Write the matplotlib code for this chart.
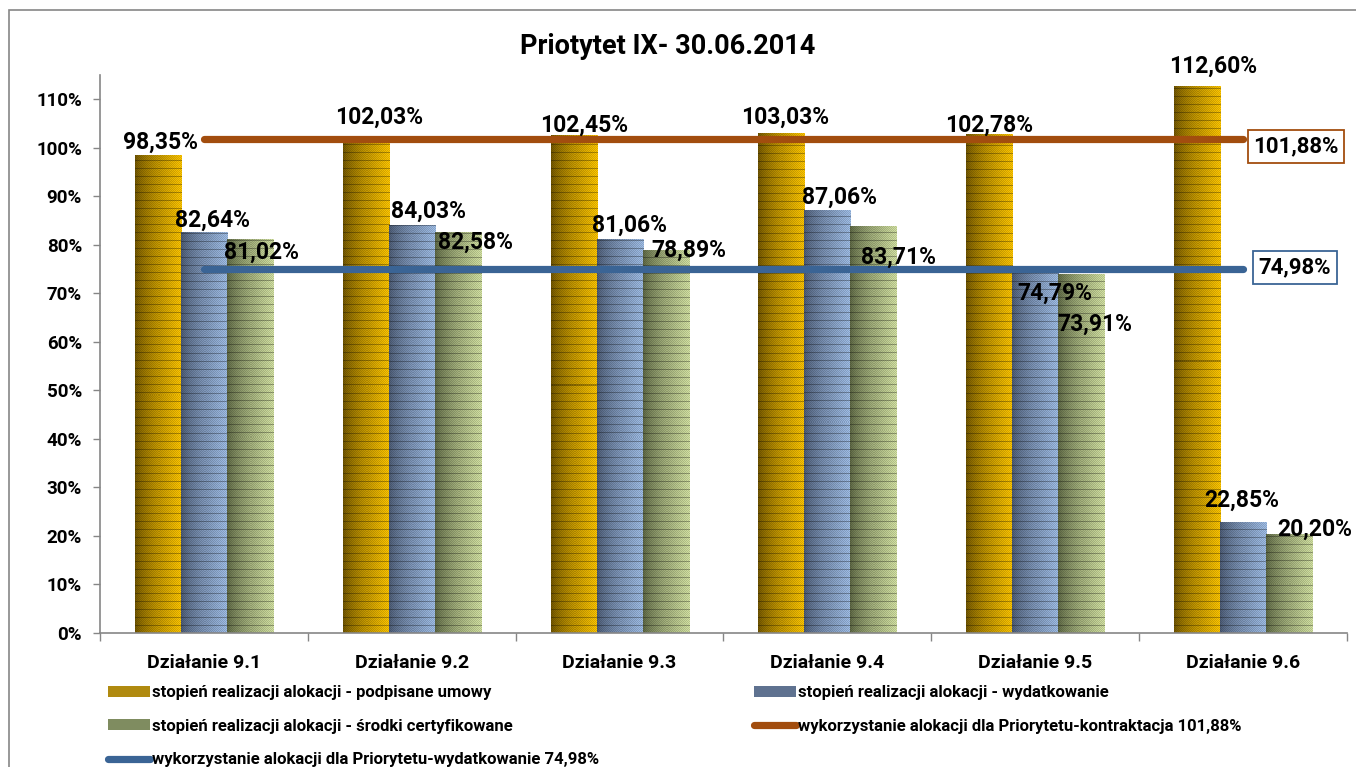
import numpy as np
import matplotlib
matplotlib.use("Agg")
import matplotlib.pyplot as plt
from matplotlib.patches import Patch, Rectangle
from matplotlib.lines import Line2D

plt.rcParams['font.family'] = ['Roboto', 'DejaVu Sans']

# ---------------- data ----------------
title = "Priotytet IX- 30.06.2014"
categories = ["Działanie 9.1", "Działanie 9.2", "Działanie 9.3",
              "Działanie 9.4", "Działanie 9.5", "Działanie 9.6"]
podpisane_umowy = [98.35, 102.03, 102.45, 103.03, 102.78, 112.60]
wydatkowanie = [82.64, 84.03, 81.06, 87.06, 74.79, 22.85]
srodki_certyfikowane = [81.02, 82.58, 78.89, 83.71, 73.91, 20.20]
kontraktacja_priorytet = [101.88, 101.88, 101.88, 101.88, 101.88, 101.88]
wydatkowanie_priorytet = [74.98, 74.98, 74.98, 74.98, 74.98, 74.98]
series_names = ["stopień realizacji alokacji - podpisane umowy",
                "stopień realizacji alokacji - wydatkowanie",
                "stopień realizacji alokacji - środki certyfikowane"]
line_names = ["wykorzystanie alokacji dla Priorytetu-kontraktacja 101,88%",
              "wykorzystanie alokacji dla Priorytetu-wydatkowanie 74,98%"]
yticks = list(range(0, 111, 10))

# ---------------- styling ----------------
W, H = 1356, 767
fig = plt.figure(figsize=(W / 100, H / 100), dpi=100)
ax_l, ax_r, ax_b, ax_t = 100, 1347, 633, 75
ax = fig.add_axes([ax_l / W, 1 - ax_b / H, (ax_r - ax_l) / W, (ax_b - ax_t) / H])
YMAX = 115
px_per_unit = (ax_b - ax_t) / YMAX

bar_colors = [  # (dark, light, legend)
    ((0.45, 0.34, 0.0), (1.0, 0.78, 0.0), "#b08a10"),
    ((0.30, 0.36, 0.46), (0.63, 0.75, 0.91), "#5f7290"),
    ((0.37, 0.41, 0.27), (0.83, 0.89, 0.64), "#7f8c60"),
]
line_colors = ["#A24D0E", "#3A6495"]

label_offsets = [
    [(3, 13.5), (13, 20.6), (11, 10.6), (4, 16), (0, 9), (16, 20)],
    [(9, 12), (17, 14), (10, 14.5), (12, 13), (20, -23), (-1, 22)],
    [(12, -12), (18, -10), (23, 0), (25, -30), (14, -50), (26, 6)],
]


def texture(dark, light, h_px, w_px):
    g = np.linspace(0, 1, w_px) ** 0.75
    dark = np.array(dark)
    light = np.array(light)
    base = dark[None, None, :] + (light - dark)[None, None, :] * g[None, :, None]
    h_px = max(h_px, 1)
    img = np.repeat(base, h_px, axis=0)
    yy, xx = np.mgrid[0:h_px, 0:w_px]
    checker = ((yy + xx) % 2 == 0)
    img = img * np.where(checker, 0.86, 1.0)[..., None]
    stripes = ((h_px - yy) % 8 == 0)
    img = img * np.where(stripes, 0.7, 1.0)[..., None]
    return np.clip(img, 0, 1)


x = np.arange(len(categories))
bw = 0.2214
all_series = [podpisane_umowy, wydatkowanie, srodki_certyfikowane]
handles = []
for si, vals in enumerate(all_series):
    dark, light, legc = bar_colors[si]
    xs = x + (si - 1) * bw
    bars = ax.bar(xs, vals, width=bw, color=legc, zorder=1, linewidth=0)
    for b, v in zip(bars, vals):
        hpx = int(round(v * px_per_unit))
        img = texture(dark, light, hpx, 46)
        ax.imshow(img, extent=(b.get_x(), b.get_x() + b.get_width(), 0, v),
                  aspect='auto', interpolation='nearest', zorder=2)
    handles.append(Patch(facecolor=legc, edgecolor='none', label=series_names[si]))

for vals, c, name in zip([kontraktacja_priorytet, wydatkowanie_priorytet], line_colors, line_names):
    ax.plot(x, vals, color=c, lw=5.2, solid_capstyle='round', zorder=3)
    handles.append(Line2D([0], [0], color=c, lw=5.2, solid_capstyle='round', label=name))

# data labels
for si, vals in enumerate(all_series):
    xs = x + (si - 1) * bw
    for i, (xx, v) in enumerate(zip(xs, vals)):
        dx, dy = label_offsets[si][i]
        ax.annotate(f"{v:.2f}".replace('.', ',') + '%', xy=(xx, v), xytext=(dx, dy),
                    textcoords='offset pixels', ha='center', va='center',
                    fontsize=16.5, fontweight='bold', zorder=5)

# boxed line labels
for vals, c, off in zip([kontraktacja_priorytet, wydatkowanie_priorytet], line_colors,
                        [(53, -8), (52, 2)]):
    ax.annotate(f"{vals[-1]:.2f}".replace('.', ',') + '%', xy=(x[-1], vals[-1]), xytext=off,
                textcoords='offset pixels', ha='center', va='center',
                fontsize=16, fontweight='bold', zorder=6,
                bbox=dict(boxstyle='square,pad=0.25', fc='white', ec=c, lw=1.3))

ax.set_xlim(-0.5, len(categories) - 0.5)
ax.set_ylim(0, YMAX)
ax.set_yticks(yticks)
ax.set_yticklabels([f"{t}%" for t in yticks], fontsize=13.5, fontweight='bold')
ax.set_xticks(x)
ax.set_xticklabels(categories, fontsize=14, fontweight='bold')
ax.set_xticks(np.arange(-0.5, len(categories), 1.0), minor=True)
ax.tick_params(axis='x', which='major', length=0, pad=15)
ax.tick_params(axis='x', which='minor', length=6, color='#868686', width=1)
ax.tick_params(axis='y', which='major', length=5, color='#868686', width=1, pad=8)
for s in ['top', 'right']:
    ax.spines[s].set_visible(False)
for s in ['left', 'bottom']:
    ax.spines[s].set_color('#868686')
    ax.spines[s].set_linewidth(1.2)

fig.text(668 / W, 1 - 47 / H, title, ha='center', va='center', fontsize=19.5, fontweight='bold')

# outer chart border
fig.patches.append(Rectangle((9 / W, -0.1), 1.2, 1 - 10 / H + 0.1, transform=fig.transFigure,
                             fill=False, ec='#868686', lw=1.2))

order = [0, 2, 4, 1, 3]
leg = fig.legend([handles[i] for i in order], [handles[i].get_label() for i in order],
                 loc='upper left', bbox_to_anchor=(108 / W, 1 - 685 / H), ncol=2,
                 frameon=False, prop={'size': 12, 'weight': 'bold'},
                 handlelength=2.5, handleheight=0.65, handletextpad=0.15,
                 labelspacing=1.12, columnspacing=9.3, borderpad=0, borderaxespad=0)

fig.savefig("out.png", dpi=100)
